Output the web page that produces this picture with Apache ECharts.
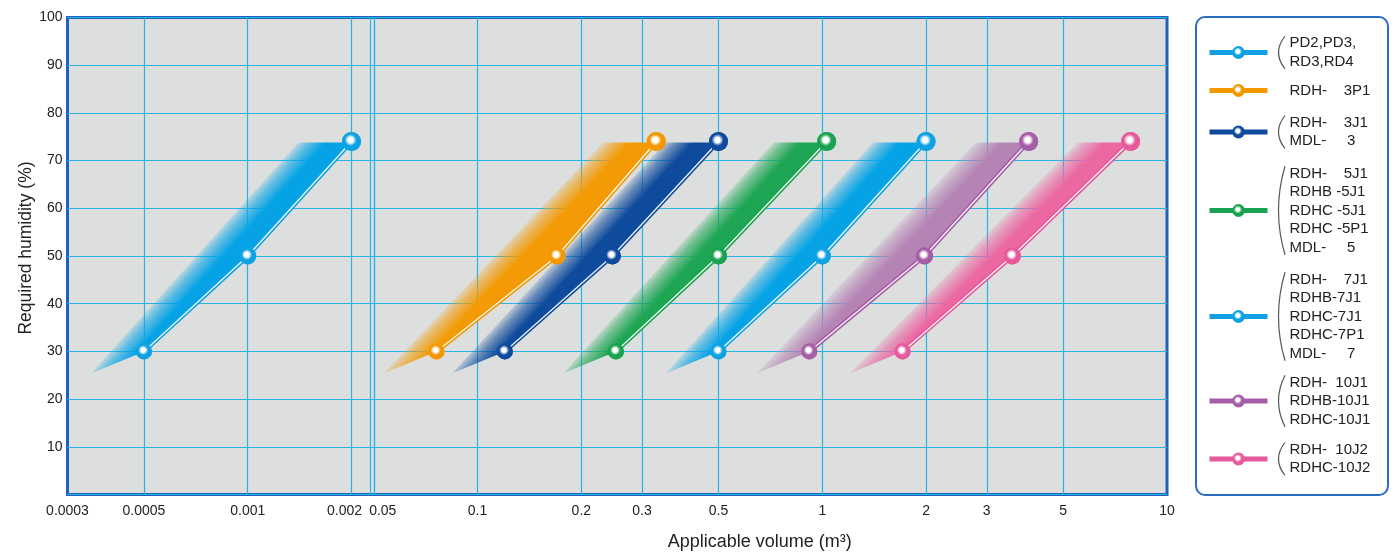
<!DOCTYPE html>
<html>
<head>
<meta charset="utf-8">
<script src="https://cdn.jsdelivr.net/npm/echarts@6/dist/echarts.min.js"></script>
<style>
html,body{margin:0;padding:0;background:#fff;}
#chart{width:1392px;height:552px;}
</style>
</head>
<body>
<div id="chart"></div>
<script>
// ---------------- data ----------------
const xTickValues = [0.0003, 0.0005, 0.001, 0.002, 0.05, 0.1, 0.2, 0.3, 0.5, 1, 2, 3, 5, 10];
const xTickLabels = ['0.0003', '0.0005', '0.001', '0.002', '0.05', '0.1', '0.2', '0.3', '0.5', '1', '2', '3', '5', '10'];
const xGridValues = [0.0005, 0.001, 0.002, 0.05, 0.1, 0.2, 0.3, 0.5, 1, 2, 3, 5];
const xBreak = [0.00226, 0.05];

const seriesNames = [
  'PD2,PD3,\nRD3,RD4',
  'RDH-    3P1',
  'RDH-    3J1\nMDL-     3',
  'RDH-    5J1\nRDHB -5J1\nRDHC -5J1\nRDHC -5P1\nMDL-     5',
  'RDH-    7J1\nRDHB-7J1\nRDHC-7J1\nRDHC-7P1\nMDL-     7',
  'RDH-  10J1\nRDHB-10J1\nRDHC-10J1',
  'RDH-  10J2\nRDHC-10J2'
];
const pd   = [[0.0005, 30], [0.001, 50], [0.002, 74]];
const r3p1 = [[0.076, 30], [0.17, 50], [0.33, 74]];
const r3j1 = [[0.12, 30], [0.246, 50], [0.5, 74]];
const r5   = [[0.252, 30], [0.5, 50], [1.03, 74]];
const r7   = [[0.5, 30], [1.0, 50], [2.0, 74]];
const r10j1 = [[0.917, 30], [1.98, 50], [3.97, 74]];
const r10j2 = [[1.71, 30], [3.56, 50], [7.84, 74]];
const seriesData = [pd, r3p1, r3j1, r5, r7, r10j1, r10j2];

// ---------------- styles ----------------
const FONT = "'Liberation Sans', Arial, Helvetica, sans-serif";
const lineColors = ['#0ea2e2', '#f39800', '#0f4b9c', '#19a350', '#0ea2e2', '#a55ea5', '#e6599b'];
const bandColors = ['#05a3e6', '#f39a05', '#0e4b9d', '#1fa655', '#05a3e6', '#b584b5', '#eb68a3'];
const legendCenters = [52.5, 90.5, 132, 210.5, 316.5, 401, 459];
const LH = 18.5;
const BAND_W = 53, TAIL_DY = 22;
const SYM_SIZES = [16, 17, 19];

function rgba(hex, a) {
  const n = parseInt(hex.slice(1), 16);
  return 'rgba(' + ((n >> 16) & 255) + ',' + ((n >> 8) & 255) + ',' + (n & 255) + ',' + a + ')';
}
function symFill(c) {
  return new echarts.graphic.RadialGradient(0.45, 0.42, 0.5, [
    { offset: 0, color: '#ffffff' },
    { offset: 0.28, color: '#ffffff' },
    { offset: 0.62, color: c },
    { offset: 1, color: c }
  ]);
}
function bandRender(points, color) {
  return function (params, api) {
    if (params.dataIndex !== 0) return null;
    const c = points.map(p => api.coord(p));
    const bot = c[0], mid = c[1], top = c[2];
    const TL = [top[0] - BAND_W, top[1] + 1];
    const tip = [bot[0] - BAND_W, bot[1] + TAIL_DY];
    let dx = TL[0] - tip[0], dy = TL[1] - tip[1];
    const len = Math.sqrt(dx * dx + dy * dy);
    dx /= len; dy /= len;
    const nx = -dy, ny = dx; // points into the band
    const grad = new echarts.graphic.LinearGradient(
      TL[0] - nx * 3, TL[1] - ny * 3, TL[0] + nx * 20, TL[1] + ny * 20, [
        { offset: 0, color: rgba(color, 0) },
        { offset: 0.45, color: rgba(color, 0.55) },
        { offset: 1, color: rgba(color, 1) }
      ], true);
    return {
      type: 'polygon',
      shape: { points: [[top[0], top[1] + 1], mid, bot, tip, TL] },
      style: { fill: grad }
    };
  };
}

const series = [];
seriesData.forEach((d, i) => {
  series.push({
    name: '_band' + i, type: 'custom', coordinateSystem: 'cartesian2d',
    data: d, encode: { x: 0, y: 1 }, renderItem: bandRender(d, bandColors[i]),
    z: 1, silent: true
  });
});
seriesData.forEach((d, i) => {
  series.push({
    name: seriesNames[i], type: 'line', data: d, z: 2,
    symbol: 'circle', symbolSize: (v, p) => SYM_SIZES[p.dataIndex],
    lineStyle: { color: lineColors[i], width: 4.5 },
    itemStyle: { color: symFill(lineColors[i]) },
    emphasis: { disabled: true }
  });
  series.push({
    name: '_hl' + i, type: 'line', data: d, z: 3, silent: true,
    symbol: 'circle', symbolSize: (v, p) => SYM_SIZES[p.dataIndex],
    lineStyle: { color: 'rgba(255,255,255,0.92)', width: 1.3 },
    itemStyle: { color: symFill(lineColors[i]) },
    emphasis: { disabled: true }
  });
});

const legends = seriesNames.map((n, i) => {
  const lines = n.split('\n').length;
  return {
    data: [n], orient: 'vertical', left: 1207,
    top: legendCenters[i] - lines * LH / 2,
    padding: 0, itemWidth: 58, itemHeight: 16, selectedMode: false,
    lineStyle: { width: 5 },
    textStyle: { fontFamily: FONT, fontSize: 15, lineHeight: LH, color: '#222', padding: [0, 0, 0, 17] }
  };
});

const graphics = [{
  type: 'rect', z: 0,
  shape: { x: 1196, y: 17, width: 192, height: 478, r: 9 },
  style: { fill: '#fff', stroke: '#2a6dc0', lineWidth: 2 }
}];
seriesNames.forEach((n, i) => {
  const lines = n.split('\n').length;
  if (lines < 2) return;
  const h = lines * LH;
  const y1 = legendCenters[i] - h / 2 + 2, y2 = legendCenters[i] + h / 2 - 2;
  graphics.push({
    type: 'bezierCurve', z: 10,
    shape: { x1: 1285, y1: y1, x2: 1285, y2: y2, cpx1: 1272, cpy1: (y1 + y2) / 2 },
    style: { stroke: '#555', lineWidth: 1.2, fill: null }
  });
});

function xLabel(v) {
  let best = 0, bd = Infinity;
  xTickValues.forEach((t, i) => {
    const d = Math.abs(Math.log10(t) - Math.log10(v));
    if (d < bd) { bd = d; best = i; }
  });
  const s = xTickLabels[best];
  if (s === '0.002') return '{l|' + s + '}';
  if (s === '0.05') return '{r|' + s + '}';
  return s;
}

const option = {
  animation: false,
  backgroundColor: '#ffffff',
  grid: {
    left: 67.5, top: 17.5, right: 225, bottom: 57.5,
    outerBoundsMode: 'none', containLabel: false,
    show: true, backgroundColor: '#dcdfde', borderColor: '#1f63b6', borderWidth: 3
  },
  xAxis: {
    type: 'log', min: 0.0003, max: 10,
    breaks: [{ start: xBreak[0], end: xBreak[1], gap: '0.36%' }],
    breakArea: {
      show: true,
      itemStyle: { color: 'rgba(0,0,0,0)', borderColor: '#2ab4e6', borderWidth: 1.2, borderType: 'solid', opacity: 1 },
      zigzagAmplitude: 0, zigzagMinSpan: 4, zigzagMaxSpan: 20, expandOnClick: false
    },
    name: 'Applicable volume (m³)', nameLocation: 'middle', nameGap: 39, nameMoveOverlap: false,
    nameTextStyle: { fontFamily: FONT, fontSize: 18, color: '#222', padding: [0, 0, 0, 285] },
    axisLine: { show: false },
    axisTick: { show: false, customValues: xGridValues },
    splitLine: { show: true, lineStyle: { color: '#2ab4e6', width: 1.2 } },
    axisLabel: {
      customValues: xTickValues, formatter: xLabel, margin: 10, hideOverlap: false,
      fontFamily: FONT, fontSize: 14, color: '#222',
      rich: {
        l: { fontFamily: FONT, fontSize: 14, color: '#222', padding: [0, 14, 0, 0] },
        r: { fontFamily: FONT, fontSize: 14, color: '#222', padding: [0, 0, 0, 18] }
      }
    }
  },
  yAxis: {
    type: 'value', min: 0, max: 100, interval: 10,
    name: 'Required humidity (%)', nameLocation: 'middle', nameGap: 32, nameMoveOverlap: false,
    nameTextStyle: { fontFamily: FONT, fontSize: 17.5, color: '#222', padding: [0, 0, 0, 16] },
    axisLine: { show: false }, axisTick: { show: false },
    splitLine: { show: true, lineStyle: { color: '#2ab4e6', width: 1.2 } },
    axisLabel: {
      formatter: v => (v === 0 ? '' : String(v)), margin: 5,
      fontFamily: FONT, fontSize: 14, color: '#222'
    }
  },
  legend: legends,
  graphic: graphics,
  series: series
};

const chart = echarts.init(document.getElementById('chart'), null, { renderer: 'canvas' });
chart.setOption(option);
</script>
</body>
</html>
